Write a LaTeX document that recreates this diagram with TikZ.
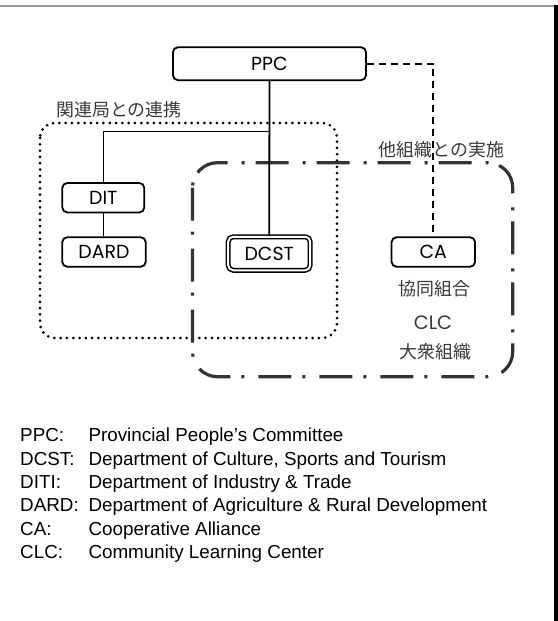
\documentclass[tikz,border=0pt]{standalone}
\usepackage{fontspec}
\setmainfont{Liberation Sans}
\newfontfamily\boxfont{Poppins}
\newfontfamily\jpfont{Noto Sans CJK JP}
\definecolor{frameline}{HTML}{999999}
\definecolor{groupline}{HTML}{333333}
\definecolor{jptext}{HTML}{3A3A3A}
\begin{document}
\begin{tikzpicture}[x=1bp,y=-1bp,
  unit/.style={draw, line width=1.8bp, rounded corners=5bp, fill=white,
    font=\boxfont\fontsize{19}{21}\selectfont, inner sep=0pt,
    minimum height=29.5bp},
  mainunit/.style={unit, double, double distance=2bp, line width=1.5bp,
    minimum width=82bp, minimum height=33.5bp},
  jplabel/.style={font=\jpfont\fontsize{18}{20}\selectfont, text=jptext, inner sep=0pt},
  orglabel/.style={font=\boxfont\fontsize{19.5}{22}\selectfont, text=jptext, inner sep=0pt},
  abbr/.style={anchor=base west, inner sep=0pt, font=\fontsize{18.9}{21}\selectfont},
  link/.style={line width=1.8bp},
  sublink/.style={line width=1.3bp},
  loose/.style={line width=1.8bp, dash pattern=on 7bp off 5bp},
  groupdots/.style={line width=3bp, line cap=round, dash pattern=on 0bp off 6.3bp},
  groupdashdot/.style={line width=3.2bp, draw=groupline, dash pattern=on 33bp off 11bp on 3bp off 14bp}
]
\useasboundingbox (0,0) rectangle (558,621);

% page frame
\draw[frameline, line width=2bp] (0,6) -- (553.5,6);
\fill[black] (553.5,5) rectangle (558,621);

% grouping outlines
\draw[groupdots, rounded corners=15bp] (40,123) rectangle (337,338);
\draw[groupdashdot, rounded corners=25bp] (192.5,162.7) rectangle (512.7,376.7);

\node[jplabel] (coop) at (119,110) {関連局との連携};
\node[jplabel] (impl) at (441.5,149.5) {他組織との実施};

% units
\node[unit, minimum width=193bp, minimum height=33bp] (ppc) at (269.5,63.7) {PPC};
\node[unit, minimum width=82bp] (dit) at (103.3,197.7) {DIT};
\node[unit, minimum width=83.5bp] (dard) at (104,252) {DARD};
\node[mainunit] (dcst) at (269.2,253.5) {DCST};
\node[unit, minimum width=83.5bp] (ca) at (433.3,252) {CA};

\node[jplabel] (kumiai) at (434.5,288.2) {協同組合};
\node[orglabel] (clc) at (433,322.5) {CLC};
\node[jplabel] (taishu) at (435.5,351.8) {大衆組織};

% connectors
\coordinate (branch) at (269,131.7);
\draw[link] (ppc.south) -- (dcst.north);
\draw[sublink] (branch) -| (dit.north);
\draw[sublink] (dit.south) -- (dit.south |- dard.north);
\draw[loose] (ppc.east) -| (ca.north);

% legend
\node[abbr] (k1) at (20,441.7) {PPC:};
\node[abbr] (v1) at (88.3,441.7) {Provincial People’s Committee};
\node[abbr] (k2) at (20,465) {DCST:};
\node[abbr] (v2) at (88.3,465) {Department of Culture, Sports and Tourism};
\node[abbr] (k3) at (20,488.3) {DITI:};
\node[abbr] (v3) at (88.3,488.3) {Department of Industry \& Trade};
\node[abbr] (k4) at (20,511.7) {DARD:};
\node[abbr] (v4) at (88.3,511.7) {Department of Agriculture \& Rural Development};
\node[abbr] (k5) at (20,535) {CA:};
\node[abbr] (v5) at (88.3,535) {Cooperative Alliance};
\node[abbr] (k6) at (20,558.3) {CLC:};
\node[abbr] (v6) at (88.3,558.3) {Community Learning Center};
\end{tikzpicture}
\end{document}
